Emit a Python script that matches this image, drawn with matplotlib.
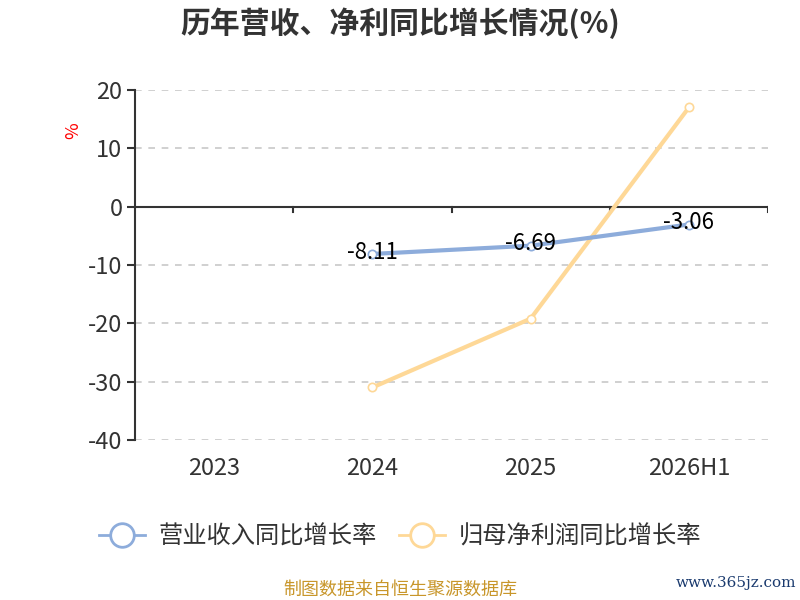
import matplotlib
matplotlib.use('Agg')
import matplotlib.pyplot as plt
import numpy as np
from matplotlib.lines import Line2D

plt.rcParams['font.family'] = ['Noto Sans CJK SC', 'DejaVu Sans']

categories = ['2023', '2024', '2025', '2026H1']
revenue_growth = [np.nan, -8.11, -6.69, -3.06]
profit_growth = [np.nan, -31.0, -19.2, 17.0]
yticks = [-40, -30, -20, -10, 0, 10, 20]

blue = '#8dacdb'
orange = '#fed897'

fig = plt.figure(figsize=(8, 6), dpi=100)
ax = fig.add_axes([0.16875, 0.2667, 0.79125, 0.5833])

x = np.arange(len(categories))
ax.plot(x, revenue_growth, color=blue, lw=3, marker='o', ms=6,
        mfc='white', mec=blue, mew=1.2, zorder=4)
ax.plot(x, profit_growth, color=orange, lw=3, marker='o', ms=6,
        mfc='white', mec=orange, mew=1.2, zorder=3)

for xi, v in zip(x, revenue_growth):
    if not np.isnan(v):
        ax.text(xi, v + 0.3, f'{v:.2f}', ha='center', va='center',
                fontsize=16, color='black', zorder=5)

ax.set_xlim(-0.5, len(categories) - 0.5)
ax.set_ylim(-40, 20)
ax.set_yticks(yticks)
ax.set_yticklabels([str(t) for t in yticks], fontsize=17, color='#333333')
for t in yticks:
    if t != 0:
        ax.axhline(t, color='#c8c8c8', lw=1.2, ls=(0, (4, 4)), zorder=1)

# x axis on zero line with ticks between categories
ax.axhline(0, color='#333333', lw=1.5, zorder=2)
for b in np.arange(0.5, len(categories), 1.0):
    ax.plot([b, b], [0, -1.0], color='#333333', lw=1.5, zorder=2)
ax.set_xticks(x)
ax.set_xticklabels(categories, fontsize=17, color='#333333')
ax.tick_params(axis='x', length=0, pad=12)
ax.tick_params(axis='y', length=6, width=1.5, color='#333333', pad=3)

for s in ['top', 'right', 'bottom']:
    ax.spines[s].set_visible(False)
ax.spines['left'].set_color('#333333')
ax.spines['left'].set_linewidth(1.5)

fig.text(0.091, 0.783, '%', color='red', fontsize=13, rotation=90,
         ha='center', va='center')

fig.text(0.5, 0.962, '历年营收、净利同比增长情况(%)', fontsize=21.5,
         fontweight='bold', color='#333333', ha='center', va='center')

handles = [
    Line2D([], [], color=blue, lw=2, marker='o', ms=17, mfc='white',
           mec=blue, mew=2),
    Line2D([], [], color=orange, lw=2, marker='o', ms=17, mfc='white',
           mec=orange, mew=2),
]
fig.legend(handles, ['营业收入同比增长率', '归母净利润同比增长率'],
           loc='center', bbox_to_anchor=(0.5, 0.105), ncol=2, frameon=False,
           fontsize=17.5, handlelength=1.9, handletextpad=0.55,
           columnspacing=0.9, labelcolor='#333333')

fig.text(0.5, 0.017, '制图数据来自恒生聚源数据库', fontsize=13,
         color='#c8962a', ha='center', va='center')
fig.text(0.92, 0.028, 'www.365jz.com', fontsize=11, color='#1a3a6e',
         ha='center', va='center', family='DejaVu Serif')

fig.savefig('out.png', dpi=100)
